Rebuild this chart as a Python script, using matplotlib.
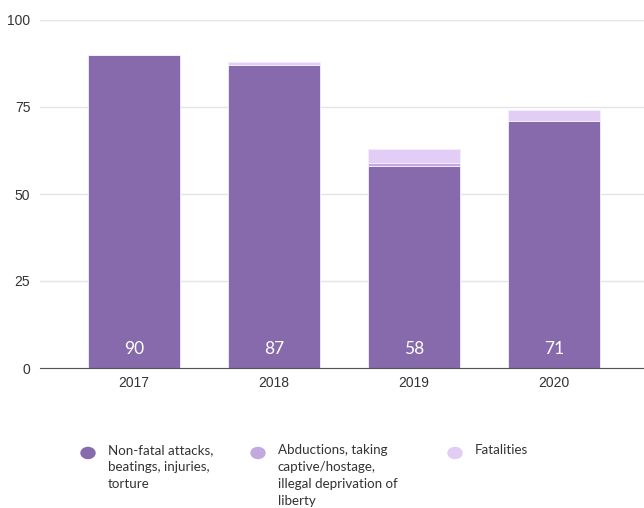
import matplotlib.pyplot as plt
import numpy as np

plt.rcParams["font.family"] = ["Liberation Sans", "DejaVu Sans"]

years = ["2017", "2018", "2019", "2020"]
non_fatal = [90, 87, 58, 71]
abductions = [0, 0, 1, 0]
fatalities = [0, 1, 4, 3]

legend_labels = [
    "Non-fatal attacks,\nbeatings, injuries,\ntorture",
    "Abductions, taking\ncaptive/hostage,\nillegal deprivation of\nliberty",
    "Fatalities",
]
colors = ["#866aab", "#c3a9de", "#e1cdf6"]

fig = plt.figure(figsize=(6.44, 5.08), dpi=100)
ax = fig.add_axes([40 / 644, 140 / 508, 604 / 644, 348 / 508])

x = np.arange(len(years))
w = 0.657
bottom = np.zeros(len(years))
for vals, c in zip([non_fatal, abductions, fatalities], colors):
    ax.bar(x, vals, w, bottom=bottom, color=c, edgecolor="#f4eefa", linewidth=0.6, zorder=3)
    bottom += np.array(vals)

for xi, v in zip(x, non_fatal):
    ax.text(xi, 5.4, str(v), ha="center", va="center", color="white", fontsize=12.5,
            family="Lato", zorder=4)

ax.set_xlim(-0.671, 3.643)
ax.set_ylim(0, 100)
ax.set_yticks([0, 25, 50, 75, 100])
ax.yaxis.grid(True, color="#e4e4e4", linewidth=1, zorder=0)
ax.set_xticks(x)
ax.set_xticklabels(years)
for s in ["top", "right", "left"]:
    ax.spines[s].set_visible(False)
ax.spines["bottom"].set_color("#555555")
ax.spines["bottom"].set_zorder(5)
ax.tick_params(axis="y", length=0, pad=7, labelsize=10, labelcolor="#333333")
ax.tick_params(axis="x", length=0, pad=6, labelsize=10, labelcolor="#333333")

# legend below the chart
leg_x = [88, 258, 455]
for lx, c, t in zip(leg_x, colors, legend_labels):
    fig.patches.append(plt.Circle((lx / 644, 1 - 453 / 508), 7 / 644, transform=fig.transFigure,
                                  color=c, figure=fig))
    fig.text((lx + 20) / 644, 1 - 444 / 508, t, ha="left", va="top", fontsize=9.6,
             family="Lato", color="#333333", linespacing=1.5)

fig.savefig("out.png", dpi=100)
